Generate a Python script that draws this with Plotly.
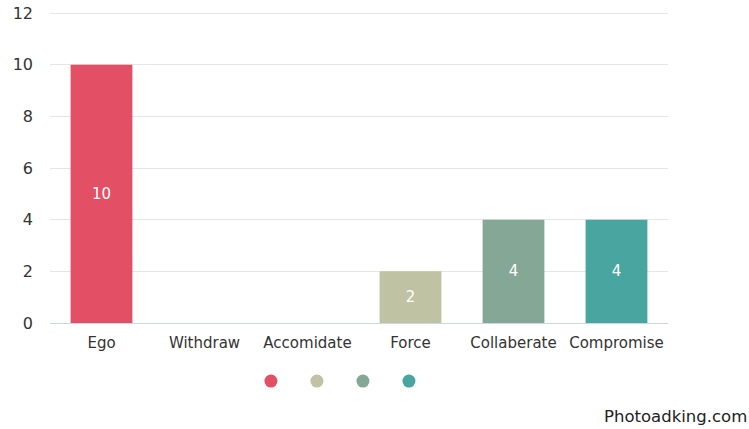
import plotly.graph_objects as go

categories = ["Ego", "Withdraw", "Accomidate", "Force", "Collaberate", "Compromise"]
values = [10, 0, 0, 2, 4, 4]
colors = ["#E34F64", "#C8CAAE", "#9FB8A8", "#BFC3A4", "#85A896", "#49A5A0"]
y_ticks = [0, 2, 4, 6, 8, 10, 12]

fig = go.Figure()

fig.add_trace(go.Bar(
    x=categories,
    y=values,
    marker=dict(color=colors, line=dict(width=0)),
    text=[str(v) if v else "" for v in values],
    textposition="inside",
    insidetextanchor="middle",
    textfont=dict(color="white", size=15, family="DejaVu Sans"),
    width=0.6,
    showlegend=False,
    hoverinfo="x+y",
))

# legend dots for the categories that have a value
for cat, val, col in zip(categories, values, colors):
    if val:
        fig.add_trace(go.Scatter(
            x=[None], y=[None], mode="markers", name="",
            marker=dict(color=col, size=13, symbol="circle"),
            showlegend=True,
        ))

fig.update_layout(
    width=749, height=429,
    margin=dict(l=50, r=81, t=12, b=106, autoexpand=False),
    paper_bgcolor="white", plot_bgcolor="white",
    font=dict(family="DejaVu Sans", color="#333333", size=15),
    legend=dict(
        orientation="h", x=0.474, xanchor="center", y=-0.14, yanchor="top",
        entrywidth=1, entrywidthmode="pixels", itemsizing="trace",
        font=dict(size=1),
    ),
    xaxis=dict(
        showline=True, linecolor="#ccd6eb", linewidth=1,
        showgrid=False, ticks="", tickfont=dict(size=15, color="#333333"),
        range=[-0.5, 5.5], automargin=False, ticklabelstandoff=6,
    ),
    yaxis=dict(
        range=[0, 12.04], tickvals=y_ticks, showgrid=True, gridcolor="#e6e6e6",
        zeroline=False, ticks="", tickfont=dict(size=16, color="#333333"),
        ticklabelstandoff=16, automargin=False,
    ),
    annotations=[dict(
        text="Photoadking.com", xref="paper", yref="paper",
        x=1.0 + 81 / 618, y=-0.30, xanchor="right", yanchor="middle",
        showarrow=False, font=dict(size=16.5, color="#222222", family="DejaVu Sans"),
    )],
)

fig.write_html("out.html")
